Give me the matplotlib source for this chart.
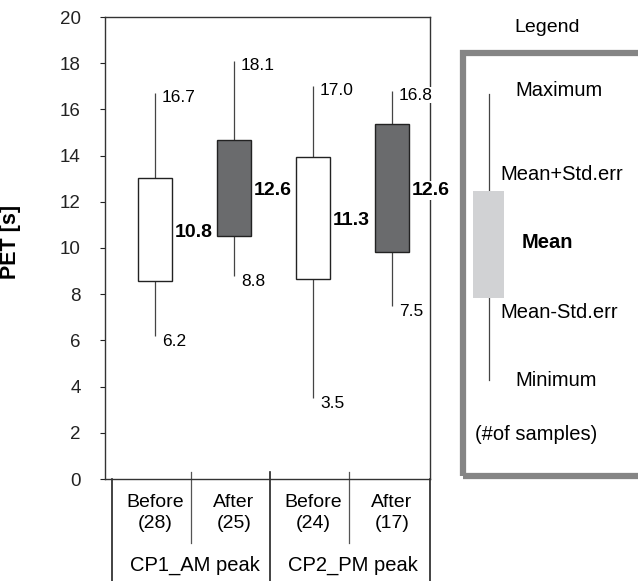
import numpy as np
import matplotlib
matplotlib.use("Agg")
import matplotlib.pyplot as plt
from matplotlib.patches import Rectangle
from matplotlib.lines import Line2D

plt.rcParams['font.family'] = ['Liberation Sans', 'DejaVu Sans']

# data
groups = ["CP1_AM peak", "CP2_PM peak"]
periods = ["Before", "After", "Before", "After"]
samples = [28, 25, 24, 17]
means = [10.8, 12.6, 11.3, 12.6]
std_err = [2.25, 2.07, 2.65, 2.77]
maxima = [16.7, 18.1, 17.0, 16.8]
minima = [6.2, 8.8, 3.5, 7.5]
fills = ["white", "#6a6b6d", "white", "#6a6b6d"]
yticks = [0, 2, 4, 6, 8, 10, 12, 14, 16, 18, 20]

W, H = 638, 581
fig = plt.figure(figsize=(W / 100, H / 100), dpi=100)
ax = fig.add_axes([105 / W, (H - 479) / H, 325 / W, 462 / H])

pos = np.arange(1, len(means) + 1)
m = np.array(means)
se = np.array(std_err)

ax.vlines(pos, minima, maxima, color="#444444", lw=0.9, zorder=2)
ax.bar(pos, 2 * se, bottom=m - se, width=0.44, color=fills,
       edgecolor="#222222", lw=1.0, zorder=3)

lab = dict(textcoords="offset points", ha="left", va="center", zorder=6,
           annotation_clip=False,
           bbox=dict(boxstyle="square,pad=0.05", fc="white", ec="none"))
for p, mx, mn, mu in zip(pos, maxima, minima, means):
    ax.annotate(f"{mx:.1f}", (p, mx), xytext=(5, -3), fontsize=12.5, **lab)
    ax.annotate(f"{mn:.1f}", (p, mn), xytext=(5, -4), fontsize=12.5, **lab)
    ax.annotate(f"{mu:.1f}", (p + 0.22, mu), xytext=(2, -2), fontsize=14,
                fontweight="bold", **lab)

ax.set_xlim(0.367, 4.48)
ax.set_ylim(0, 20)
ax.set_yticks(yticks)
ax.set_xticks([])
ax.tick_params(axis="y", direction="out", length=3.5, width=0.8,
               labelsize=13.5, pad=14, colors="#222222")
for s in ax.spines.values():
    s.set_color("#333333")
    s.set_linewidth(1.0)
ax.set_ylabel("PET [s]", fontsize=15.5, fontweight="bold")
ax.yaxis.set_label_coords(-0.258, 0.513)

# category table under the axis
xt = ax.get_xaxis_transform()
bottom = -0.235
ax.plot([0.0215, 0.0215], [0, bottom], transform=ax.transAxes,
        color="#222222", lw=1.2, clip_on=False)
ax.plot([1, 1], [0, bottom], transform=ax.transAxes,
        color="#222222", lw=1.2, clip_on=False)
ax.plot([2.46, 2.46], [0.015, bottom], transform=xt,
        color="#222222", lw=1.2, clip_on=False)
for x in [1.46, 3.46]:
    ax.plot([x, x], [0.015, -0.1385], transform=xt,
            color="#555555", lw=0.9, clip_on=False)

for p, per, n in zip(pos, periods, samples):
    ax.text(p, -0.0736, f"{per}\n({n})", transform=xt, ha="center",
            va="center", fontsize=14, linespacing=1.25)
for i, g in enumerate(groups):
    ax.text(1.5 + 2 * i, -0.186, g, transform=xt, ha="center",
            va="center", fontsize=14.5)

# legend panel on the right, in pixel coordinates
def fx(x):
    return x / W

def fy(y):
    return (H - y) / H

tf = fig.transFigure
fig.add_artist(Rectangle((fx(463), fy(476)), fx(700) - fx(463), fy(53) - fy(476),
                         transform=tf, fill=False, ec="#858585", lw=4.5))
fig.add_artist(Line2D([fx(489), fx(489)], [fy(380), fy(94)], transform=tf,
                      color="#444444", lw=0.9, zorder=1))
fig.add_artist(Rectangle((fx(473), fy(298)), fx(504) - fx(473), fy(191) - fy(298),
                         transform=tf, fc="#d1d2d4", ec="none", zorder=2))

fig.text(fx(547), fy(28), "Legend", ha="center", va="center", fontsize=14)
legend_items = [("Maximum", 515, 90, "normal"),
                ("Mean+Std.err", 500, 175, "normal"),
                ("Mean", 522, 243, "bold"),
                ("Mean-Std.err", 500, 313, "normal"),
                ("Minimum", 515, 380, "normal"),
                ("(#of samples)", 475, 435, "normal")]
for txt, x, y, w in legend_items:
    fig.text(fx(x), fy(y), txt, ha="left", va="center", fontsize=14.5,
             fontweight=w)

fig.savefig("out.png", dpi=100)
